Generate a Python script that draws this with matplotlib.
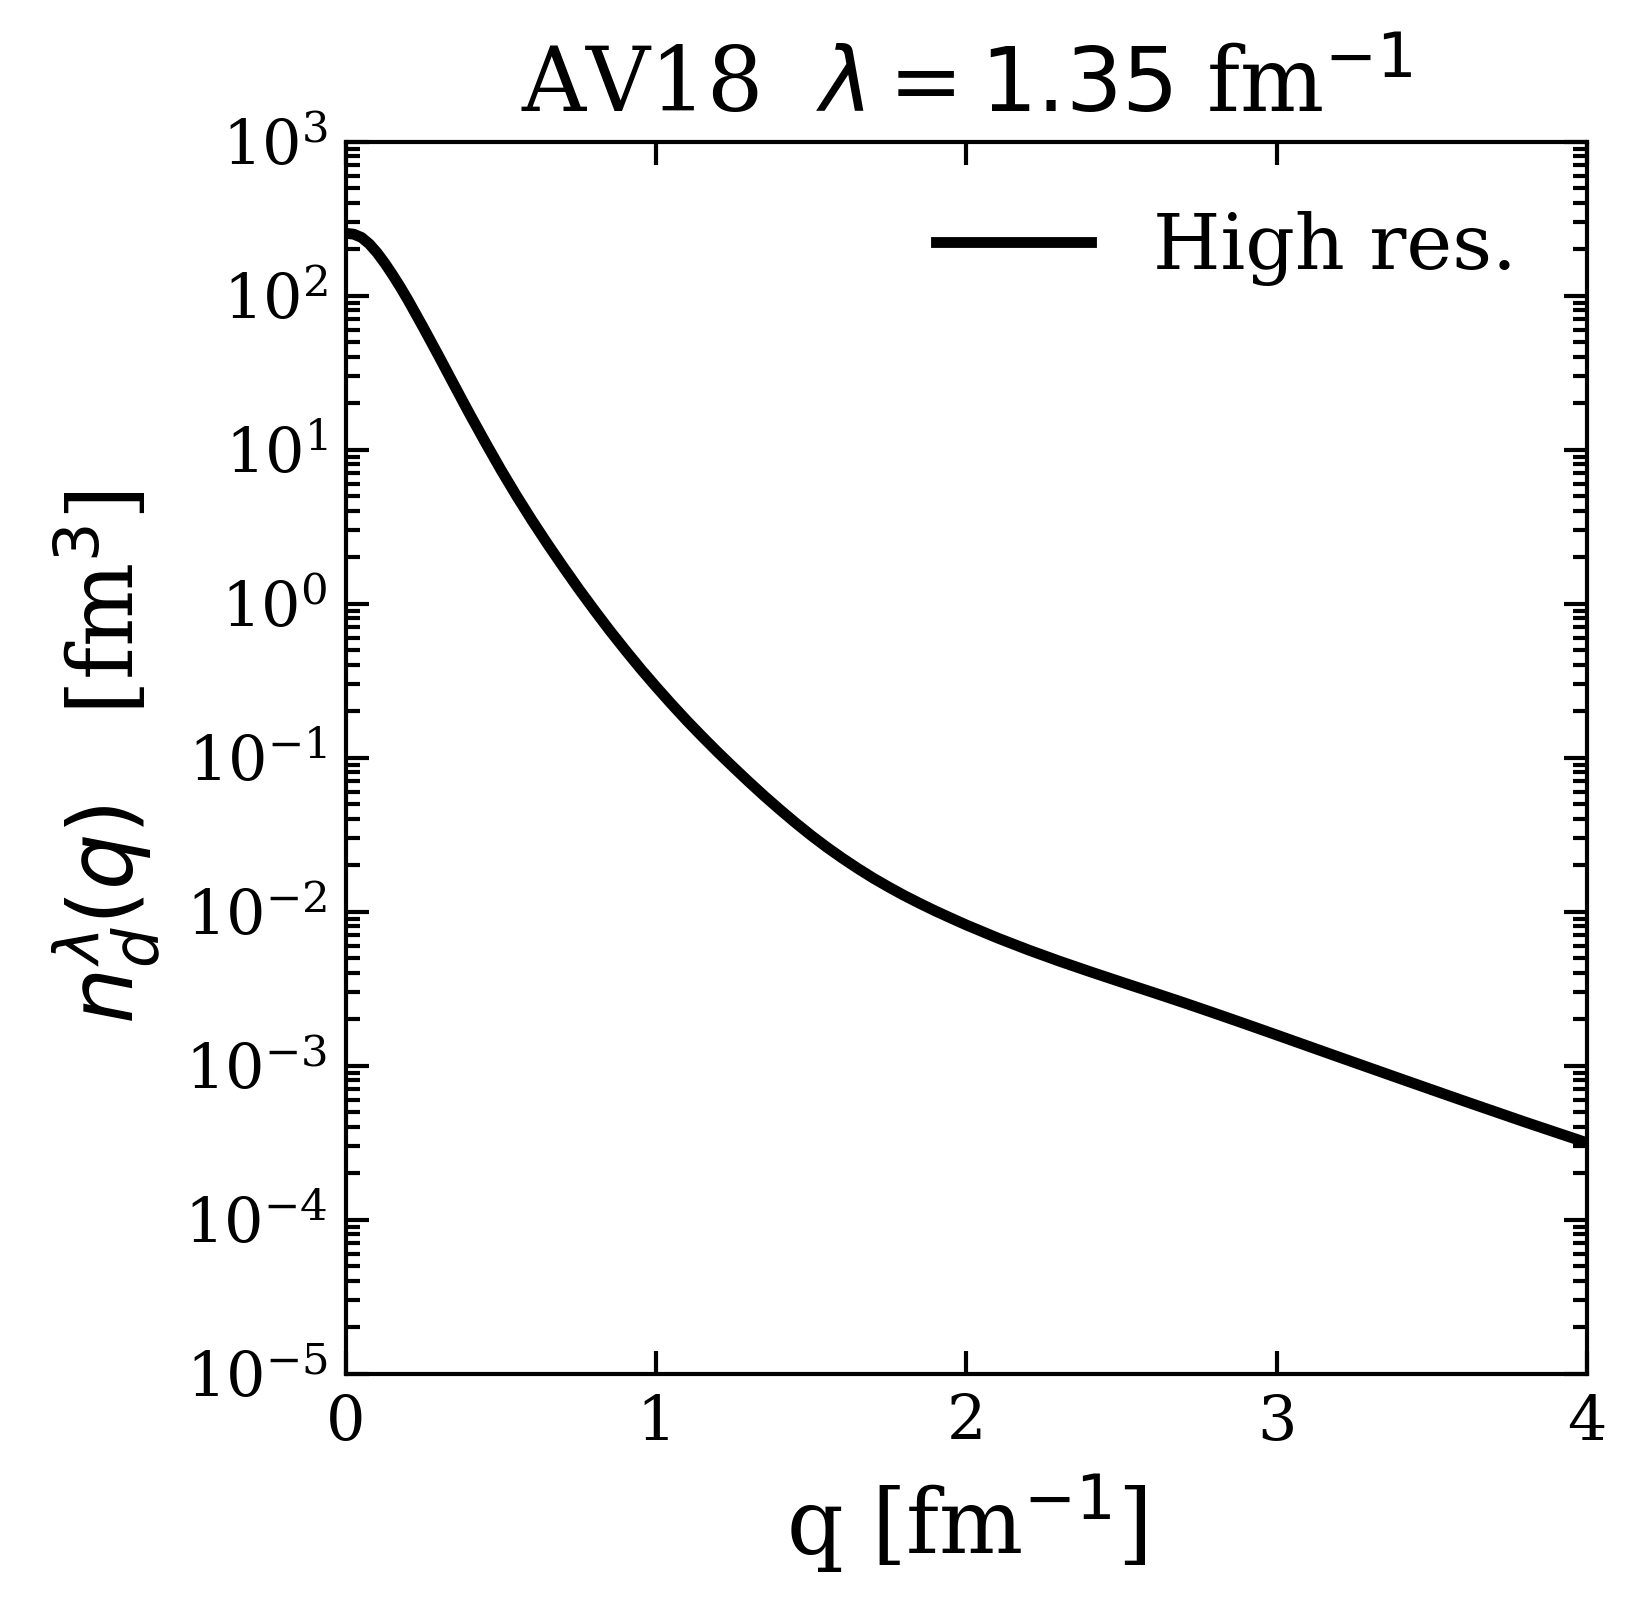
import numpy as np
import matplotlib
matplotlib.use("Agg")
import matplotlib.pyplot as plt
from matplotlib.ticker import LogLocator, NullFormatter, FixedLocator

# ---- data ----
q_values = [0.0, 0.025, 0.05, 0.075, 0.1, 0.125, 0.15, 0.175, 0.2, 0.25,
            0.3, 0.35, 0.4, 0.45, 0.5, 0.55, 0.6, 0.65, 0.7, 0.75, 0.8,
            0.85, 0.9, 0.95, 1.0, 1.05, 1.1, 1.15, 1.2, 1.25, 1.3, 1.35,
            1.4, 1.45, 1.5, 1.55, 1.6, 1.65, 1.7, 1.75, 1.8, 1.85, 1.9,
            1.95, 2.0, 2.1, 2.2, 2.3, 2.4, 2.5, 2.6, 2.7, 2.8, 2.9, 3.0,
            3.2, 3.4, 3.6, 3.8, 4.0]
log10_n = [2.404, 2.398, 2.377, 2.335, 2.278, 2.21, 2.135, 2.055, 1.97, 1.789,
           1.603, 1.413, 1.225, 1.043, 0.866, 0.698, 0.538, 0.385, 0.238, 0.095,
           -0.042, -0.175, -0.302, -0.425, -0.542, -0.655, -0.764, -0.868,
           -0.969, -1.066, -1.161, -1.253, -1.341, -1.426, -1.507, -1.583,
           -1.654, -1.721, -1.784, -1.842, -1.897, -1.948, -1.997, -2.043,
           -2.088, -2.172, -2.250, -2.323, -2.392, -2.459, -2.525, -2.592,
           -2.661, -2.731, -2.802, -2.945, -3.087, -3.228, -3.367, -3.502]
n_values = [10.0 ** v for v in log10_n]
series_label = "High res."
x_ticks = [0, 1, 2, 3, 4]

plt.rcParams['font.family'] = ['DejaVu Serif']
plt.rcParams['mathtext.fontset'] = 'dejavusans'

fig = plt.figure(figsize=(1646 / 300, 1618 / 300), dpi=300)
ax = fig.add_axes([346 / 1646, 1 - 1373.5 / 1618, (1587 - 346) / 1646, (1373.5 - 141.5) / 1618])

ax.semilogy(q_values, n_values, color='black', lw=2.6, label=series_label)

ax.set_xlim(0, 4)
ax.set_ylim(1e-5, 1e3)
ax.xaxis.set_major_locator(FixedLocator(x_ticks))
ax.yaxis.set_major_locator(LogLocator(base=10, numticks=20))
ax.yaxis.set_minor_locator(LogLocator(base=10, subs=np.arange(2, 10), numticks=20))
ax.yaxis.set_minor_formatter(NullFormatter())

ax.tick_params(which='both', direction='in', top=True, right=True, width=1.0)
ax.tick_params(which='major', length=5.5, labelsize=14.9, pad=4.4)
ax.tick_params(which='minor', length=3.4)
for s in ax.spines.values():
    s.set_linewidth(1.0)

ax.set_xlabel(r'q [fm$^{-1}$]', fontsize=21.3, labelpad=5)
ax.set_ylabel(r'$n_d^\lambda(q)$   [fm$^3$]', fontsize=21.3, labelpad=5)
ax.set_title(r'AV18  $\lambda = 1.35$ fm$^{-1}$', fontsize=21.3, pad=7)

ax.legend(loc='upper right', frameon=False, fontsize=18.6)

fig.savefig('out.png', dpi=300)
